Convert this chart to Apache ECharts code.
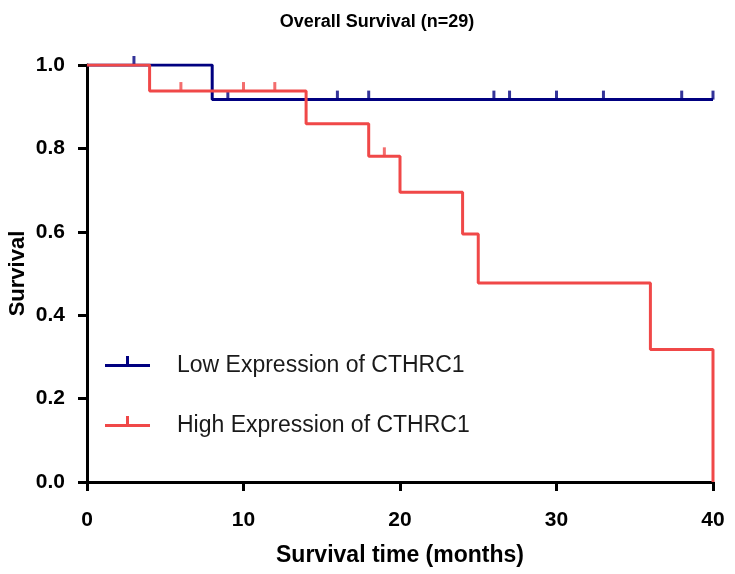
<!DOCTYPE html>
<html>
<head>
<meta charset="utf-8">
<script src="https://cdn.jsdelivr.net/npm/echarts@6/dist/echarts.min.js"></script>
<style>html,body{margin:0;padding:0;background:#fff;}#c{width:735px;height:574px;}</style>
</head>
<body>
<div id="c"></div>
<script>
// Kaplan-Meier step points [month, survival]
const lowSteps = [[0, 1.0], [8, 0.917], [40, 0.917]];
const highSteps = [[0, 1.0], [4, 0.9375], [14, 0.859], [18, 0.781], [20, 0.695], [24, 0.595], [25, 0.477], [36, 0.318], [40, 0.0]];
// censored observations [month, survival]
const lowCensor = [[3, 1.0], [9, 0.917], [16, 0.917], [18, 0.917], [26, 0.917], [27, 0.917], [30, 0.917], [33, 0.917], [38, 0.917], [40, 0.917]];
const highCensor = [[6, 0.9375], [10, 0.9375], [12, 0.9375], [19, 0.781]];
const xTicks = [0, 10, 20, 30, 40];
const yTicks = [0.0, 0.2, 0.4, 0.6, 0.8, 1.0];
const seriesNames = ['Low Expression of CTHRC1', 'High Expression of CTHRC1'];

const BLUE = '#000080';
const RED = '#f04848';
// horizontal bar with a censor tick above; zero-area subpath below keeps the bar vertically centred
const legendIcon = 'path://M0,8 L45,8 L45,11 L0,11 Z M21,0 L24,0 L24,8 L21,8 Z M21,19 L24,19 L24,19 Z';

const FONT = 'Liberation Sans, Arial, sans-serif';
const chart = echarts.init(document.getElementById('c'));
const axisLine = { show: true, onZero: false, lineStyle: { color: '#000', width: 3 } };
const axisTick = { show: true, inside: false, length: 9, lineStyle: { color: '#000', width: 3 } };
const legendText = { fontFamily: FONT, fontSize: 23, color: '#1a1a1a', padding: [0, 0, 0, 22] };

chart.setOption({
  animation: false,
  backgroundColor: '#fff',
  title: {
    text: 'Overall Survival (n=29)',
    left: 372, top: 8, textAlign: 'center',
    textStyle: { fontFamily: FONT, fontWeight: 'bold', fontSize: 18, color: '#000' }
  },
  grid: { left: 87, right: 22, top: 65, bottom: 92, containLabel: false, outerBoundsMode: 'none' },
  legend: [
    { data: [{ name: seriesNames[0], icon: legendIcon }], left: 100, top: 349, itemWidth: 45, itemHeight: 19, textStyle: legendText, selectedMode: false },
    { data: [{ name: seriesNames[1], icon: legendIcon }], left: 100, top: 409, itemWidth: 45, itemHeight: 19, textStyle: legendText, selectedMode: false }
  ],
  xAxis: {
    type: 'value', min: xTicks[0], max: xTicks[xTicks.length - 1], interval: 10,
    name: 'Survival time (months)', nameLocation: 'middle', nameGap: 62, nameMoveOverlap: false,
    nameTextStyle: { fontFamily: FONT, fontWeight: 'bold', fontSize: 23, color: '#000' },
    axisLine: axisLine, axisTick: axisTick, splitLine: { show: false },
    axisLabel: { margin: 28, fontFamily: FONT, fontWeight: 'bold', fontSize: 21, color: '#000' }
  },
  yAxis: {
    type: 'value', min: yTicks[0], max: yTicks[yTicks.length - 1], interval: 0.2,
    name: 'Survival', nameLocation: 'middle', nameGap: 58, nameRotate: 90, nameMoveOverlap: false,
    nameTextStyle: { fontFamily: FONT, fontWeight: 'bold', fontSize: 22, color: '#000' },
    axisLine: axisLine, axisTick: axisTick, splitLine: { show: false },
    axisLabel: { margin: 22, formatter: v => v.toFixed(1), fontFamily: FONT, fontWeight: 'bold', fontSize: 21, color: '#000' }
  },
  series: [
    { name: seriesNames[0], type: 'line', step: 'end', data: lowSteps, showSymbol: false, color: BLUE, lineStyle: { color: BLUE, width: 3 }, z: 3 },
    { name: seriesNames[1], type: 'line', step: 'end', data: highSteps, showSymbol: false, color: RED, lineStyle: { color: RED, width: 3 }, z: 4 },
    { name: 'lowCensor', type: 'scatter', data: lowCensor, symbol: 'rect', symbolSize: [3, 9], symbolOffset: [0, -4.5], itemStyle: { color: BLUE }, z: 3 },
    { name: 'highCensor', type: 'scatter', data: highCensor, symbol: 'rect', symbolSize: [3, 9], symbolOffset: [0, -4.5], itemStyle: { color: RED }, z: 4 }
  ]
});
</script>
</body>
</html>
